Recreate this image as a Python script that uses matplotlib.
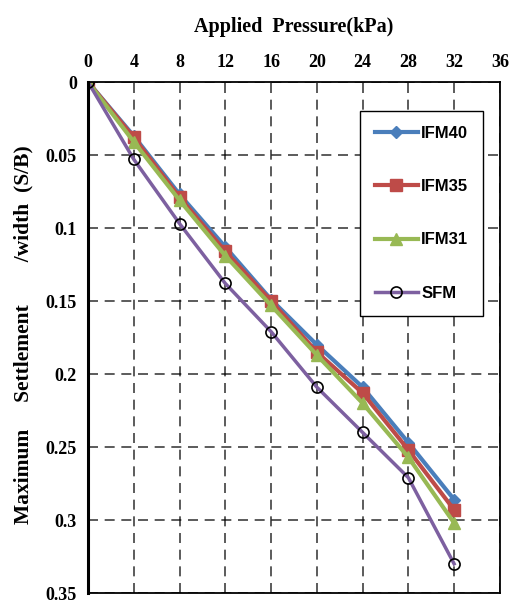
import matplotlib.pyplot as plt

pressure = [0, 4, 8, 12, 16, 20, 24, 28, 32]
ifm40 = [0, 0.037, 0.077, 0.113, 0.149, 0.180, 0.209, 0.247, 0.286]
ifm35 = [0, 0.038, 0.079, 0.116, 0.150, 0.185, 0.213, 0.252, 0.293]
ifm31 = [0, 0.041, 0.081, 0.119, 0.153, 0.187, 0.220, 0.257, 0.302]
sfm = [0, 0.053, 0.097, 0.138, 0.171, 0.209, 0.240, 0.271, 0.330]

x_ticks = [0, 4, 8, 12, 16, 20, 24, 28, 32, 36]
y_ticks = [0, 0.05, 0.1, 0.15, 0.2, 0.25, 0.3, 0.35]
y_labels = ['0', '0.05', '0.1', '0.15', '0.2', '0.25', '0.3', '0.35']

serif = {'family': 'Liberation Serif', 'weight': 'bold'}

fig = plt.figure(figsize=(5.18, 6.12), dpi=100)
ax = fig.add_axes([0.17, 0.031, 0.795, 0.835])

ax.plot(pressure, ifm40, color='#4a7ebb', lw=3, marker='D', ms=6, label='IFM40')
ax.plot(pressure, ifm35, color='#be4b48', lw=3, marker='s', ms=8, label='IFM35')
ax.plot(pressure, ifm31, color='#98b954', lw=3, marker='^', ms=9, label='IFM31')
ax.plot(pressure, sfm, color='#7d60a0', lw=2.5, marker='o', ms=8,
        mfc='none', mec='black', mew=1.2, label='SFM')

ax.set_xlim(0, 36)
ax.set_ylim(0.35, 0)
ax.xaxis.tick_top()
ax.xaxis.set_label_position('top')
ax.set_xticks(x_ticks)
ax.set_xticklabels([str(v) for v in x_ticks], fontdict=serif, fontsize=13)
ax.set_yticks(y_ticks)
ax.set_yticklabels(y_labels, fontdict=serif, fontsize=13)
ax.tick_params(length=0, pad=8)

ax.grid(True, color='black', ls=(0, (6, 4)), lw=1.2, alpha=0.75)

for s in ['top', 'bottom', 'right']:
    ax.spines[s].set_linewidth(1.3)
ax.spines['left'].set_linewidth(2.2)

ax.set_xlabel('Applied  Pressure(kPa)', fontdict=serif, fontsize=14.5, labelpad=16)
ylab = 'Maximum' + ' ' * 5 + 'Settlement' + ' ' * 8 + '/width' + ' ' * 2 + '(S/B)'
ax.set_ylabel(ylab, fontdict=serif, fontsize=15.5)
ax.yaxis.set_label_coords(-0.133, 0.505)

leg = ax.legend(loc='upper right', bbox_to_anchor=(0.98, 0.96),
                prop={'family': 'Liberation Sans', 'weight': 'bold', 'size': 12},
                labelspacing=2.3, handlelength=2.6, handletextpad=0.2,
                borderpad=0.9, fancybox=False, framealpha=1)
leg.get_frame().set_edgecolor('black')
leg.get_frame().set_linewidth(1.0)

fig.savefig('out.png')
